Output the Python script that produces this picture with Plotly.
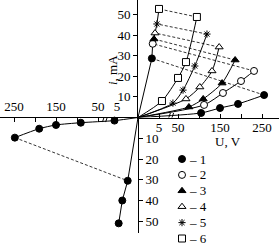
import plotly.graph_objects as go

# ---------------- data (U in V, i in mA) ----------------
series_labels = ["1", "2", "3", "4", "5", "6"]
symbols = ["circle", "circle", "triangle-up", "triangle-up", "asterisk-open", "square"]
fills = ["black", "white", "black", "white", "black", "white"]

# high-voltage (off-state) branches, positive polarity
u_off = [
    [105, 150, 193, 255],
    [112, 157, 200, 231],
    [76, 110, 155, 186],
    [69, 102, 131, 148],
    [38, 62, 90, 119],
    [12, 50, 69, 95],
]
i_off = [
    [2.2, 4.6, 6.6, 10.9],
    [6.1, 11.9, 17.7, 22.6],
    [5.1, 9.0, 16.7, 27.9],
    [9.0, 14.8, 22.6, 34.2],
    [7.0, 13.3, 25.0, 40.5],
    [8.0, 19.2, 26.9, 48.8],
]
# low-voltage (on-state) points, positive polarity
u_on = [3.3, 3.5, 3.8, 4.05, 4.5, 5.0]
i_on = [28.7, 35.8, 38.1, 41.0, 45.4, 52.7]

# series 1, negative polarity
u_off_neg = [-11, -91, -150, -190, -248]
i_off_neg = [-1.5, -2.5, -3.6, -5.4, -9.7]
u_on_neg = [-2.45, -3.74, -4.6]
i_on_neg = [-30.5, -40.0, -51.0]

x_ticks = [5, 50, 100, 150, 200, 250]
x_ticktext = ["5", "50", "", "150", "", "250"]
y_ticks = [10, 20, 30, 40, 50]


# broken voltage scale: 0..5 V expanded, 5..50 V compressed, 50..250 V linear
def disp(u):
    a = abs(u)
    s = 1 if u >= 0 else -1
    if a <= 5:
        d = 4.2 * a
    elif a < 50:
        d = 21 + (a - 5) * 19 / 45
    else:
        d = 40 + (a - 50) * 21 / 50
    return s * d


def dl(us):
    return [disp(u) for u in us]


FONT = "Liberation Serif"
fig = go.Figure()

W, H = 279, 245
X0, Y0 = 138, 117.5  # origin in px
top_mA = Y0 / 2.06
bot_px = 233
bot_mA = -(bot_px - Y0) / 2.075

order = sorted(range(6), key=lambda k: i_on[k])
fig.add_trace(go.Scatter(
    x=[0] + [disp(u_on[k]) for k in order], y=[0] + [i_on[k] for k in order],
    mode="lines", line=dict(color="black", width=1), showlegend=False,
    xaxis="x2", yaxis="y2", cliponaxis=False, hoverinfo="skip"))
fig.add_trace(go.Scatter(
    x=[0] + dl(u_on_neg), y=[0] + i_on_neg,
    mode="lines", line=dict(color="black", width=1), showlegend=False,
    xaxis="x3", yaxis="y3", cliponaxis=False, hoverinfo="skip"))

for k in range(6):
    fig.add_trace(go.Scatter(
        x=[0] + dl(u_off[k]), y=[0] + i_off[k], mode="lines",
        line=dict(color="black", width=1, shape="spline", smoothing=0.7),
        showlegend=False, xaxis="x2", yaxis="y2", cliponaxis=False, hoverinfo="skip"))
    fig.add_trace(go.Scatter(
        x=[disp(u_off[k][-1]), disp(u_on[k])], y=[i_off[k][-1], i_on[k]], mode="lines",
        line=dict(color="black", width=0.8, dash="3px,2px"),
        showlegend=False, xaxis="x2", yaxis="y2", cliponaxis=False, hoverinfo="skip"))

fig.add_trace(go.Scatter(
    x=[0] + dl(u_off_neg), y=[0] + i_off_neg, mode="lines",
    line=dict(color="black", width=1, shape="spline", smoothing=0.7),
    showlegend=False, xaxis="x3", yaxis="y3", cliponaxis=False, hoverinfo="skip"))
fig.add_trace(go.Scatter(
    x=[disp(u_off_neg[-1]), disp(u_on_neg[0])], y=[i_off_neg[-1], i_on_neg[0]], mode="lines",
    line=dict(color="black", width=0.8, dash="3px,2px"),
    showlegend=False, xaxis="x3", yaxis="y3", cliponaxis=False, hoverinfo="skip"))

def mk(k):
    size = 6 if symbols[k].startswith("asterisk") else 7
    return dict(symbol=symbols[k], size=size, color=fills[k], line=dict(color="black", width=1))

for k in range(6):
    fig.add_trace(go.Scatter(
        x=dl(u_off[k]) + [disp(u_on[k])], y=i_off[k] + [i_on[k]], mode="markers",
        marker=mk(k), showlegend=False,
        xaxis="x2", yaxis="y2", cliponaxis=False))
fig.add_trace(go.Scatter(
    x=dl(u_off_neg) + dl(u_on_neg), y=i_off_neg + i_on_neg, mode="markers",
    showlegend=False, marker=mk(0),
    xaxis="x3", yaxis="y3", cliponaxis=False))

# ---- key (legend) drawn on its own hidden pixel-like axes ----
KEY_X, KEY_Y0, KEY_DY = 182, 159, 15.9
for k in range(6):
    fig.add_trace(go.Scatter(
        x=[KEY_X], y=[KEY_Y0 + KEY_DY * k], mode="markers", marker=mk(k),
        showlegend=False, xaxis="x4", yaxis="y4", cliponaxis=False, hoverinfo="skip"))

axfont = dict(family=FONT, size=13, color="black")
common = dict(showgrid=False, zeroline=False, showline=True, linecolor="black",
              linewidth=1, tickcolor="black", tickwidth=1, ticklen=4, tickfont=axfont,
              fixedrange=True, automargin=False)

brk = disp(32)
shapes = []
for sgn, xr, yr in [(1, "x2", "y2"), (-1, "x3", "y3")]:
    for off in (-1.6, 1.6):
        xc = sgn * brk + off
        shapes.append(dict(type="line", xref=xr, yref=yr,
                           x0=xc - 1.6, x1=xc + 1.6, y0=-2.2, y1=2.2,
                           line=dict(color="black", width=1)))

annotations = [
    dict(text="<i>i</i>, mA", x=112 / W, y=1 - 53 / H, xref="paper", yref="paper",
         showarrow=False, textangle=-90, font=axfont),
    dict(text="U, V", x=243 / W, y=1 - 141 / H, xref="paper", yref="paper",
         showarrow=False, font=axfont),
]
for k in range(6):
    annotations.append(dict(text="– " + series_labels[k], x=KEY_X + 5, y=KEY_Y0 + KEY_DY * k,
                            xref="x4", yref="y4", xanchor="left", showarrow=False,
                            font=axfont))

fig.update_layout(
    width=W, height=H, margin=dict(l=0, r=0, t=0, b=0),
    paper_bgcolor="white", plot_bgcolor="rgba(0,0,0,0)", showlegend=False,
    font=dict(family=FONT, size=13, color="black"),
    xaxis2=dict(domain=[X0 / W, 1], range=[0, W - X0], anchor="y2", side="bottom",
                ticks="inside", tickvals=dl(x_ticks), ticktext=x_ticktext,
                ticklabelstandoff=-2, **common),
    yaxis2=dict(domain=[(H - Y0) / H, 1], range=[0, top_mA], anchor="x2", side="left",
                ticks="outside", tickvals=y_ticks, ticktext=[str(v) for v in y_ticks], **common),
    xaxis3=dict(domain=[0, X0 / W], range=[-X0, 0], anchor="y3", side="top",
                ticks="inside", tickvals=dl([-v for v in x_ticks]), ticktext=x_ticktext, **common),
    yaxis3=dict(domain=[(H - bot_px) / H, (H - Y0) / H], range=[bot_mA, 0], anchor="x3",
                side="right", ticks="outside", tickvals=[-v for v in y_ticks],
                ticktext=[str(v) for v in y_ticks], **common),
    xaxis4=dict(domain=[0, 1], range=[0, W], visible=False, anchor="y4", fixedrange=True),
    yaxis4=dict(domain=[0, 1], range=[H, 0], visible=False, anchor="x4", fixedrange=True),
    shapes=shapes,
    annotations=annotations,
)

fig.write_html("out.html")
